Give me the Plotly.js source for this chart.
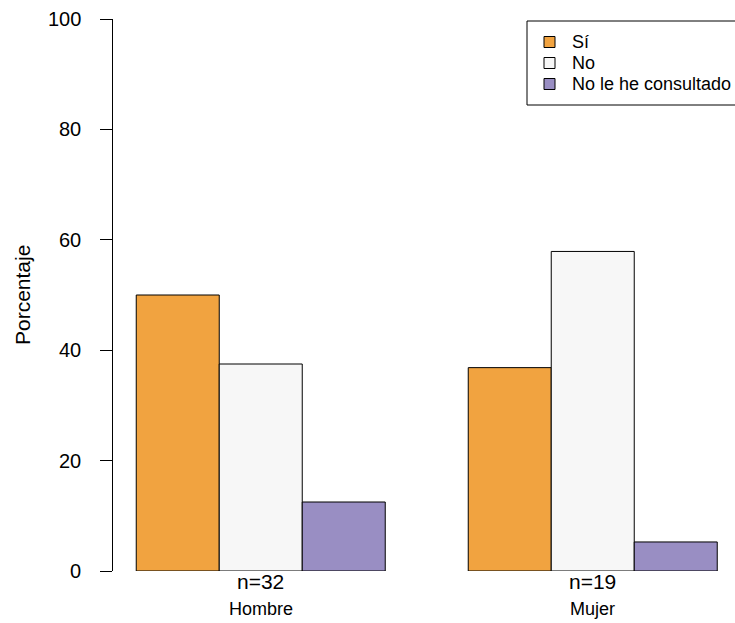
<!DOCTYPE html>
<html>
<head>
<meta charset="utf-8">
<script src="https://cdn.plot.ly/plotly-3.0.1.min.js"></script>
<style>html,body{margin:0;padding:0;background:#fff;}#chart{width:735px;height:623px;}</style>
</head>
<body>
<div id="chart"></div>
<script>
// Data
const groups = ["Hombre", "Mujer"];
const groupN = ["n=32", "n=19"];
const seriesNames = ["Sí", "No", "No le he consultado"];
const seriesColors = ["#F1A340", "#F7F7F7", "#998EC3"];
const si = [50.0, 36.84];
const no = [37.5, 57.89];
const noConsultado = [12.5, 5.26];
const yTicks = [0, 20, 40, 60, 80, 100];

const seriesValues = [si, no, noConsultado];
const nSeries = seriesValues.length;
// R barplot beside=TRUE layout: space=c(0,1) in bar units
function barPos(g, i) { return 1 + g * (nSeries + 1) + i + 0.5; }
function groupCenter(g) { return 1 + g * (nSeries + 1) + nSeries / 2; }

const FONT = "Liberation Sans, Arial, Helvetica, sans-serif";
const W = 735, H = 623;
const M = { l: 113, r: 0, t: 19, b: 52 };
const plotTop = M.t, plotBottom = H - M.b, plotLeft = M.l, plotRight = W - M.r;
const py = px => (plotBottom - px) / (plotBottom - plotTop);   // pixel y -> paper y
const pxx = px => (px - plotLeft) / (plotRight - plotLeft);    // pixel x -> paper x

const traces = seriesValues.map((vals, i) => ({
  type: "bar", name: seriesNames[i],
  x: groups.map((_, g) => barPos(g, i)), y: vals, width: 1,
  marker: { color: seriesColors[i], line: { color: "#000", width: 1 } },
  hoverinfo: "none", showlegend: false
}));

const annotations = [];
const shapes = [];
groups.forEach((gname, g) => {
  annotations.push({ x: groupCenter(g), xref: "x", y: py(581), yref: "paper", text: groupN[g],
    showarrow: false, font: { family: FONT, size: 21, color: "#000" }, yanchor: "middle" });
  annotations.push({ x: groupCenter(g), xref: "x", y: py(609), yref: "paper", text: gname,
    showarrow: false, font: { family: FONT, size: 18, color: "#000" }, yanchor: "middle" });
});
// Y tick labels (R places them further from the axis than Plotly)
yTicks.forEach(v => {
  annotations.push({ x: pxx(83), xref: "paper", y: v, yref: "y", text: String(v),
    showarrow: false, xanchor: "right", yanchor: "middle",
    font: { family: FONT, size: 20, color: "#000" } });
});
// Y axis title
annotations.push({ x: pxx(22), xref: "paper", y: py(295), yref: "paper", text: "Porcentaje",
  textangle: -90, showarrow: false, xanchor: "center", yanchor: "middle",
  font: { family: FONT, size: 21, color: "#000" } });

// Legend (R style box, clipped at right edge)
const legLeft = 527, legTop = 21, legBottom = 105, legRow0 = 42, legRowStep = 21;
shapes.push({ type: "rect", xref: "paper", yref: "paper", x0: pxx(legLeft), x1: pxx(760),
  y0: py(legBottom), y1: py(legTop), line: { color: "#000", width: 1 }, fillcolor: "#fff", layer: "above" });
seriesNames.forEach((name, i) => {
  const cy = legRow0 + i * legRowStep;
  shapes.push({ type: "rect", xref: "paper", yref: "paper", x0: pxx(544), x1: pxx(555),
    y0: py(cy + 5.5), y1: py(cy - 5.5), line: { color: "#000", width: 1 }, fillcolor: seriesColors[i], layer: "above" });
  annotations.push({ x: pxx(570), xref: "paper", y: py(cy), yref: "paper", text: name,
    showarrow: false, xanchor: "left", yanchor: "middle",
    font: { family: FONT, size: 18, color: "#000" } });
});

const layout = {
  width: W, height: H, margin: M,
  paper_bgcolor: "#fff", plot_bgcolor: "#fff",
  font: { family: FONT, size: 20, color: "#000" },
  barmode: "overlay", bargap: 0,
  xaxis: { range: [0.72, 8.214], showgrid: false, zeroline: false, showline: false,
    showticklabels: false, ticks: "", fixedrange: true },
  yaxis: { range: [0, 100], tickvals: yTicks, showticklabels: false,
    showgrid: false, zeroline: false, showline: true, linecolor: "#000", linewidth: 1,
    ticks: "outside", ticklen: 12, tickcolor: "#000", tickwidth: 1, fixedrange: true },
  showlegend: false, annotations: annotations, shapes: shapes
};
Plotly.newPlot("chart", traces, layout, { displayModeBar: false, staticPlot: true });
</script>
</body>
</html>
